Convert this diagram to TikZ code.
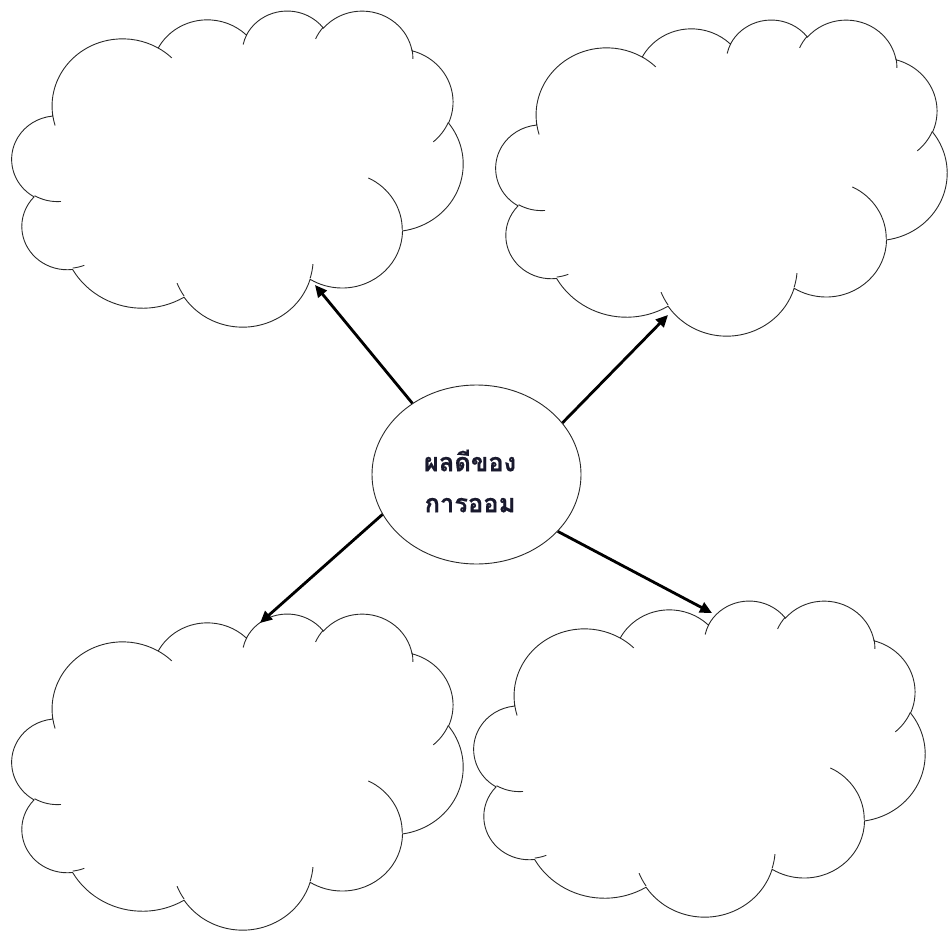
\documentclass[tikz,border=0pt]{standalone}
\usepackage{fontspec}
\newfontfamily\thaifont[Script=Thai]{Loma}
\usetikzlibrary{shapes.geometric,arrows.meta}
\definecolor{inkline}{RGB}{40,40,40}
\definecolor{inktext}{RGB}{25,25,45}
\tikzset{
  cloudline/.style={draw=inkline,line width=0.9pt},
  arr/.style={draw=black,line width=2.8pt,-{Triangle[length=12pt,width=11pt]}},
  hub/.style={ellipse,draw=inkline,line width=0.9pt,minimum width=209pt,minimum height=179pt,inner sep=0pt},
  hubtext/.style={font=\thaifont\bfseries\addfontfeatures{FakeBold=0.6}\fontsize{25.5}{41}\selectfont,text=inktext,align=center,inner sep=0pt}
}
\newcommand\carc[4]{%
  \pgfextra{%
    \pgfmathsetmacro\cta{atan2((#1)*sin(#3),(#2)*cos(#3))}%
    \pgfmathsetmacro\ctb{atan2((#1)*sin((#3)+(#4)),(#2)*cos((#3)+(#4)))}%
    \pgfmathsetmacro\ctd{\ctb-\cta}%
    \pgfmathsetmacro\ctd{\ctd<0 ? \ctd+360 : \ctd}%
    \global\let\gcta\cta \global\let\gctd\ctd
  }%
  arc[start angle=\gcta, delta angle=\gctd, x radius=#1, y radius=#2]%
}
\newcommand\cloudshape{%
  \draw[cloudline] (39.00,143.70)
    \carc{67.53}{91.90}{-190.487483}{123.780533}
    \carc{53.33}{72.67}{-144.102383}{89.945233}
    \carc{43.65}{59.45}{-145.807917}{99.723017}
    \carc{48.57}{65.95}{-130.986067}{117.241733}
    \carc{53.33}{72.73}{-78.708883}{109.026917}
    \carc{67.75}{92.20}{-46.26725}{130.269}
    \carc{57.85}{78.67}{0.625017}{114.033333}
    \carc{67.52}{92.15}{22.4516}{115.17255}
    \carc{77.20}{105.43}{66.242633}{75.711017}
    \carc{43.60}{59.18}{-274.942083}{146.735567}
    \carc{43.45}{59.45}{-246.8285}{152.51885}
    -- cycle;
  \draw[cloudline]
    (46.93,261.77) \carc{43.45}{59.45}{86.742}{26.4295}
    (69.28,348.99) \carc{43.60}{59.18}{73.610467}{11.447467}
    (164.78,390.90) \carc{67.52}{92.15}{137.62415}{14.0811}
    (288.27,347.51) \carc{67.52}{92.15}{6.453267}{15.99835}
    (341.29,229.54) \carc{57.85}{78.67}{-70.29235}{70.917367}
    (417.98,153.54) \carc{53.33}{72.73}{30.318033}{27.7515}
    (383.24,54.26) \carc{48.57}{65.95}{-13.744333}{14.8589}
    (290.78,39.52) \carc{48.57}{65.95}{-149.18145}{18.195367}
    (221.41,47.20) \carc{43.65}{59.45}{-163.494267}{17.68635}
    (140.00,51.92) \carc{67.53}{91.90}{-66.70695}{12.31935}
    (41.27,157.89) \carc{67.53}{91.90}{157.65435}{11.858167};
}
\begin{document}
\begin{tikzpicture}[x=1pt,y=-1pt]
  \useasboundingbox (0,0) rectangle (949,931);
  % clouds
  \begin{scope}[shift={(12,10)},x=1.04398pt,y=-0.73148pt] \cloudshape \end{scope}
  \begin{scope}[shift={(496,19)},x=1.04398pt,y=-0.73148pt] \cloudshape \end{scope}
  \begin{scope}[shift={(12,613)},x=1.04398pt,y=-0.73148pt] \cloudshape \end{scope}
  \begin{scope}[shift={(474,600)},x=1.04398pt,y=-0.73148pt] \cloudshape \end{scope}
  % hub
  \node[hub] (c) at (476.5,474.5) {};
  \node[hubtext] (t) at (470,481) {ผลดีของ\\การออม};
  % arrow tips
  \coordinate (tip1) at (315,285);
  \coordinate (tip2) at (668,315);
  \coordinate (tip3) at (260,623);
  \coordinate (tip4) at (712,613);
  \draw[arr] (c.132.9) -- (tip1);
  \draw[arr] (c.31.7) -- (tip2);
  \draw[arr] (c.203.4) -- (tip3);
  \draw[arr] (c.325.4) -- (tip4);
\end{tikzpicture}
\end{document}
